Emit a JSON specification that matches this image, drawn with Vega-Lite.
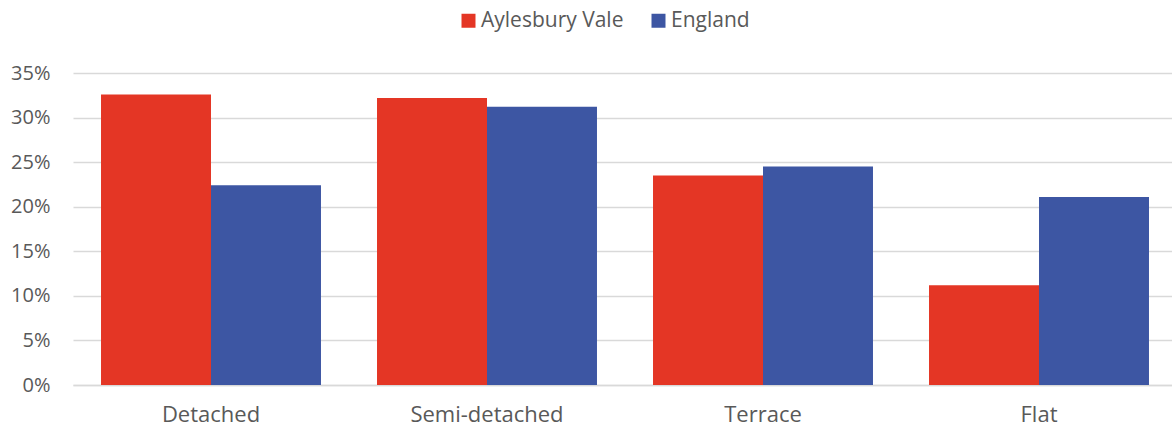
{
  "$schema": "https://vega.github.io/schema/vega-lite/v6.json",
  "autosize": "none",
  "width": 1104,
  "height": 312,
  "padding": {"left": 73, "top": 73, "right": 0, "bottom": 45},
  "background": "white",
  "data": {
    "values": [
      {"type": "Detached", "area": "Aylesbury Vale", "share": 0.326},
      {"type": "Detached", "area": "England", "share": 0.224},
      {"type": "Semi-detached", "area": "Aylesbury Vale", "share": 0.322},
      {"type": "Semi-detached", "area": "England", "share": 0.312},
      {"type": "Terrace", "area": "Aylesbury Vale", "share": 0.235},
      {"type": "Terrace", "area": "England", "share": 0.245},
      {"type": "Flat", "area": "Aylesbury Vale", "share": 0.112},
      {"type": "Flat", "area": "England", "share": 0.211}
    ]
  },
  "mark": {"type": "bar"},
  "encoding": {
    "x": {
      "field": "type",
      "type": "nominal",
      "sort": ["Detached", "Semi-detached", "Terrace", "Flat"],
      "scale": {"paddingInner": 0.203, "paddingOuter": 0.1015},
      "axis": {
        "title": null,
        "labelAngle": 0,
        "ticks": false,
        "domain": true,
        "domainColor": "#d9d9d9",
        "domainWidth": 1.5,
        "labelFont": "Open Sans",
        "labelFontSize": 22,
        "labelColor": "#595959",
        "labelPadding": 19
      }
    },
    "xOffset": {
      "field": "area",
      "type": "nominal",
      "sort": ["Aylesbury Vale", "England"],
      "scale": {"paddingInner": 0, "paddingOuter": 0}
    },
    "y": {
      "field": "share",
      "type": "quantitative",
      "scale": {"domain": [0, 0.35]},
      "axis": {
        "title": null,
        "format": ".0%",
        "values": [0, 0.05, 0.1, 0.15, 0.2, 0.25, 0.3, 0.35],
        "ticks": false,
        "domain": false,
        "grid": true,
        "gridColor": "#d9d9d9",
        "gridWidth": 1.5,
        "labelFont": "Open Sans",
        "labelFontSize": 20,
        "labelColor": "#595959",
        "labelPadding": 23
      }
    },
    "color": {
      "field": "area",
      "type": "nominal",
      "sort": ["Aylesbury Vale", "England"],
      "scale": {"domain": ["Aylesbury Vale", "England"], "range": ["#e43625", "#3d56a3"]},
      "legend": {
        "title": null,
        "orient": "none",
        "direction": "horizontal",
        "legendX": 385,
        "legendY": -63,
        "symbolType": "square",
        "symbolSize": 196,
        "symbolStrokeWidth": 0,
        "labelFont": "Open Sans",
        "labelFontSize": 21,
        "labelColor": "#595959",
        "columnPadding": 24,
        "labelOffset": 2
      }
    }
  },
  "config": {"view": {"stroke": null}}
}
